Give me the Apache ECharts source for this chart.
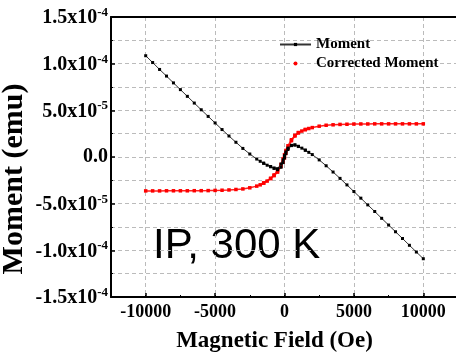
<!DOCTYPE html>
<html><head><meta charset="utf-8">
<script src="https://cdn.jsdelivr.net/npm/echarts@6/dist/echarts.min.js"></script>
<style>html,body{margin:0;padding:0;background:#fff}#c{width:456px;height:352px}</style>
</head><body><div id="c"></div>
<script>
// Field values (Oe) and moments (in units of 1e-5 emu)
const fieldUp = [-10000,-9500,-9000,-8500,-8000,-7500,-7000,-6500,-6000,-5500,-5000,-4500,-4000,-3500,-3000,-2500,-2000,-1750,-1500,-1250,-1000,-750,-500,-250,-100,0,100,250,500,750,1000,1250,1500,1750,2000,2500,3000,3500,4000,4500,5000,5500,6000,6500,7000,7500,8000,8500,9000,9500,10000];
const momentUp = [10.85,10.12,9.38,8.67,7.94,7.22,6.50,5.78,5.06,4.35,3.65,2.94,2.25,1.58,0.92,0.32,-0.22,-0.46,-0.68,-0.88,-1.05,-1.22,-1.36,-1.10,-0.60,-0.10,0.35,0.80,1.22,1.28,1.12,0.95,0.72,0.50,0.26,-0.31,-0.94,-1.61,-2.29,-2.99,-3.70,-4.41,-5.13,-5.84,-6.57,-7.29,-8.01,-8.73,-9.46,-10.18,-10.90];
const correctedUp = [-3.63,-3.63,-3.63,-3.62,-3.62,-3.62,-3.62,-3.61,-3.61,-3.60,-3.58,-3.56,-3.53,-3.48,-3.42,-3.30,-3.12,-2.98,-2.80,-2.58,-2.32,-2.00,-1.62,-1.00,-0.55,-0.10,0.40,0.95,1.75,2.25,2.58,2.78,2.93,3.05,3.15,3.30,3.40,3.45,3.49,3.51,3.53,3.54,3.54,3.55,3.55,3.55,3.55,3.55,3.55,3.55,3.55];
// return branch near zero field (small hysteresis)
const fieldDown = [1500,1000,750,500,250,100,0,-100,-250,-500,-750,-1000,-1500];
const momentDown = [0.74,1.15,1.30,1.25,0.95,0.55,0.15,-0.30,-0.75,-1.25,-1.18,-1.02,-0.66];
const correctedDown = [2.95,2.62,2.32,1.85,1.20,0.70,0.25,-0.20,-0.80,-1.45,-1.92,-2.28,-2.78];

const xMajorTicks = [-10000,-5000,0,5000,10000];
const yTickMant = {'-6':'-1.5','-4':'-1.0','-2':'-5.0','0':'0.0','2':'5.0','4':'1.0','6':'1.5'};
const yTickExp  = {'-6':'-4','-4':'-4','-2':'-5','0':'','2':'-5','4':'-4','6':'-4'};

function pairs(xs, ys){ return xs.map((x,i)=>[x, ys[i]*1e-5]); }
const momentData = pairs(fieldUp, momentUp).concat([[null,null]], pairs(fieldDown, momentDown));
const correctedData = pairs(fieldUp, correctedUp).concat([[null,null]], pairs(fieldDown, correctedDown));

const serif = 'Liberation Serif';
const chart = echarts.init(document.getElementById('c'), null, {renderer:'canvas'});
const dashed = {show:true, lineStyle:{type:[4,3], color:'#bbbbbb', width:1}};
chart.setOption({
  animation:false,
  backgroundColor:'#fff',
  grid:{left:111, top:17, right:-2, bottom:55, containLabel:false, outerBoundsMode:'none'},
  legend:{data:['Moment', {name:'Corrected Moment', icon:'circle'}], orient:'vertical',
     left:279, top:37, padding:0, itemGap:4, itemWidth:31, itemHeight:4,
     textStyle:{fontFamily:serif, fontWeight:'bold', fontSize:15, color:'#000'}},
  xAxis:[
    {type:'value', min:-12500, max:12500, interval:2500, position:'bottom',
     axisLine:{show:true, onZero:false, lineStyle:{color:'#000', width:2}},
     axisTick:{show:true, inside:true, length:4, customValues:xMajorTicks, lineStyle:{color:'#000', width:1.5}},
     axisLabel:{customValues:xMajorTicks, margin:6, formatter:function(v){return String(v);},
       fontFamily:serif, fontWeight:'bold', fontSize:18, color:'#000'},
     splitLine:dashed,
     name:'Magnetic Field (Oe)', nameLocation:'middle', nameGap:33, nameMoveOverlap:false,
     nameTextStyle:{fontFamily:serif, fontWeight:'bold', fontSize:23, color:'#000', padding:[0,20,0,0]}},
    {type:'value', min:-12500, max:12500, interval:2500, position:'bottom', gridIndex:0,
     axisLine:{show:false, onZero:false}, axisLabel:{show:false}, splitLine:{show:false},
     axisTick:{show:true, inside:true, length:2, lineStyle:{color:'#000', width:1}}},
    {type:'value', min:-12500, max:12500, interval:2500, position:'top',
     axisLine:{show:true, onZero:false, lineStyle:{color:'#000', width:2}}, axisLabel:{show:false},
     axisTick:{show:false}, splitLine:{show:false}}
  ],
  yAxis:[
    {type:'value', min:-1.5e-4, max:1.5e-4, interval:5e-5, position:'left',
     axisLine:{show:true, onZero:false, lineStyle:{color:'#000', width:2}},
     axisTick:{show:true, inside:true, length:4, lineStyle:{color:'#000', width:1.5}},
     minorTick:{show:true, splitNumber:2, length:2, lineStyle:{color:'#000', width:1}},
     splitLine:dashed, minorSplitLine:dashed,
     axisLabel:{margin:3, color:'#000',
       formatter:function(v){ const k = String(Math.round(v/2.5e-5)); const m = yTickMant[k]; if(m===undefined) return ''; const e = yTickExp[k]; return e ? '{b|'+m+'x10}{s|'+e+'}' : '{b|'+m+'}'; },
       rich:{b:{fontFamily:serif, fontWeight:'bold', fontSize:20, color:'#000', verticalAlign:'bottom'},
             s:{fontFamily:serif, fontWeight:'bold', fontSize:13, color:'#000', verticalAlign:'bottom', padding:[0,0,9,0]}}},
     name:'Moment (emu)', nameLocation:'middle', nameGap:82, nameRotate:90, nameMoveOverlap:false,
     nameTextStyle:{fontFamily:serif, fontWeight:'bold', fontSize:30, color:'#000', padding:[0,44,0,0]}},
    {type:'value', min:-1.5e-4, max:1.5e-4, interval:5e-5, position:'right',
     axisLine:{show:true, onZero:false, lineStyle:{color:'#000', width:2}}, axisLabel:{show:false},
     axisTick:{show:false}, splitLine:{show:false}}
  ],
  graphic:[{type:'text', left:153, top:225, style:{text:'IP, 300 K', font:'42px "Liberation Sans"', fill:'#000'}}],
  series:[
    {name:'Moment', type:'line', data:momentData, xAxisIndex:0, yAxisIndex:0,
     symbol:'rect', symbolSize:3, showSymbol:true, color:'#000',
     itemStyle:{color:'#000'}, lineStyle:{color:'#333', width:1}, z:3},
    {name:'Corrected Moment', type:'line', data:correctedData, xAxisIndex:0, yAxisIndex:0,
     symbol:'rect', symbolSize:3.5, showSymbol:true, color:'#ff0000',
     itemStyle:{color:'#ff0000'}, lineStyle:{color:'#ff2020', width:1.5}, z:2}
  ]
});
</script></body></html>
